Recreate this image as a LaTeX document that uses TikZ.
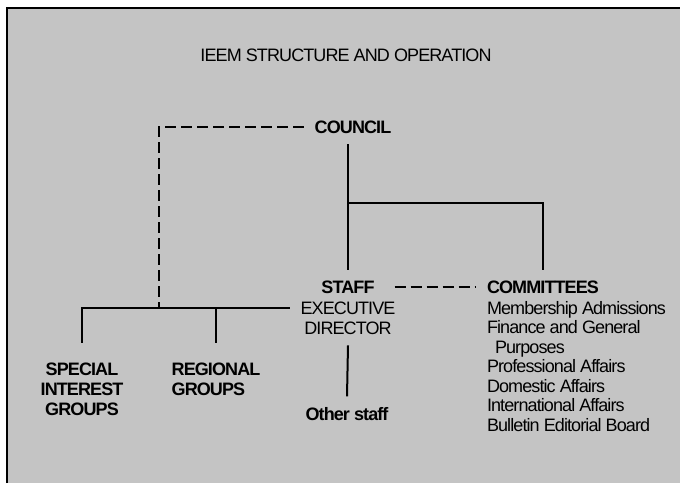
\documentclass[tikz,border=0pt]{standalone}
\usepackage{fontspec}
\setmainfont{Liberation Sans}[LetterSpace=-5]
\usetikzlibrary{positioning,calc}

\begin{document}
\begin{tikzpicture}[x=1pt,y=-1pt,
  line/.style={line width=2pt},
  dashline/.style={line width=2pt,dash pattern=on 11pt off 5pt},
  lbl/.style={inner sep=2pt,outer sep=9pt,font=\fontsize{18}{20}\selectfont},
  head/.style={lbl,font=\fontsize{18}{20}\selectfont\bfseries}]
  % paper
  \useasboundingbox (0,0) rectangle (680,483);
  \fill[black!23] (7,8) rectangle (680,483);
  \draw[line width=1.2pt] (7,483) |- (680,8);

  \node[lbl] (title) at (346,55) {IEEM STRUCTURE AND OPERATION};
  \node[head] (council) at (353,127) {COUNCIL};
  \node[head] (staff) at (348,287) {STAFF};
  \node[lbl] (exec) at (348,308) {EXECUTIVE};
  \node[lbl] (dir) at (348,328) {DIRECTOR};
  \node[head] (other) at (347,414) {Other staff};
  \node[head,anchor=west] (comm) at (476,287) {COMMITTEES};
  \node[lbl,anchor=north west,align=left,inner sep=0pt,outer sep=0pt,
        font=\fontsize{18}{19.5}\selectfont] (commlist) at (487,301)
    {Membership Admissions\\Finance and General\\\hspace*{8pt}Purposes\\
     Professional Affairs\\Domestic Affairs\\International Affairs\\
     Bulletin Editorial Board};
  \node[head,align=center] (sig) at (82,389) {SPECIAL\\INTEREST\\GROUPS};
  \node[head,align=left] (reg) at (216,379) {REGIONAL\\GROUPS};

  \coordinate (fork) at (159,308);
  \coordinate (split) at (348,203);

  % links
  \draw[dashline] (council.west) -| (fork);
  \draw[line] ([yshift=9pt]sig.north) |- (exec.west);
  \draw[line] ([yshift=9pt]reg.north) -- (reg.north |- exec.west);
  \draw[line] (council.south -| split) -- (split);
  \draw[line] (staff.north) -- (split) -| (comm.north);
  \draw[dashline,shorten <=9pt] (staff.east) -- (comm.west);
  \draw[line] (dir.south) -- (other.north);
\end{tikzpicture}
\end{document}
